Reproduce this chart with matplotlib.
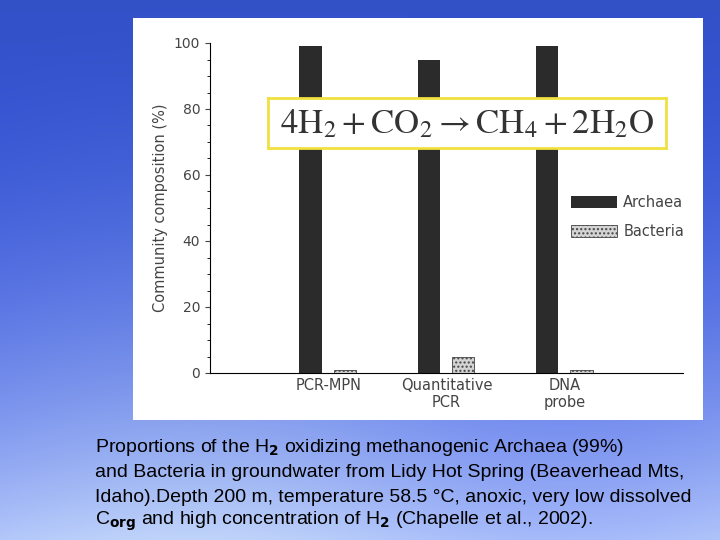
import numpy as np
import matplotlib
matplotlib.use("Agg")
import matplotlib.pyplot as plt
from matplotlib.patches import Rectangle

categories = ["PCR-MPN", "Quantitative\nPCR", "DNA\nprobe"]
archaea = [99, 95, 99]
bacteria = [1, 5, 1]
yticks = [0, 20, 40, 60, 80, 100]

W, H = 720, 540
fig = plt.figure(figsize=(7.2, 5.4), dpi=100)

bg = fig.add_axes([0, 0, 1, 1])
yy = np.linspace(0, 1, 300)[:, None]
xx = np.linspace(0, 1, 300)[None, :]
r = 0.20 + 0.50 * yy ** 2 + 0.05 * np.sin(xx * 6) * yy
g = 0.32 + 0.46 * yy ** 2 + 0.05 * np.sin(xx * 6) * yy
b = 0.78 + 0.20 * yy
img = np.dstack([np.clip(r, 0, 1) * np.ones_like(xx), np.clip(g, 0, 1) * np.ones_like(xx), np.clip(b, 0, 1) * np.ones_like(xx)])
bg.imshow(img, extent=[0, 1, 0, 1], aspect="auto", origin="upper")
bg.set_xlim(0, 1); bg.set_ylim(0, 1); bg.axis("off")

def fx(px): return px / W
def fy(py): return 1 - py / H

bg.add_patch(Rectangle((fx(133), fy(420)), fx(703) - fx(133), fy(18) - fy(420), facecolor="white", edgecolor="none"))

ax = fig.add_axes([fx(210), fy(373), fx(683) - fx(210), fy(43) - fy(373)])
ax.patch.set_alpha(0)
x = np.arange(1, len(categories) + 1)
ax.bar(x - 0.15, archaea, width=0.19, color="#2b2b2b", label="Archaea")
ax.bar(x + 0.14, bacteria, width=0.19, color="#d4d4d4", edgecolor="#444444", hatch="....", linewidth=0.6, label="Bacteria")
ax.set_xlim(0, 4)
ax.set_ylim(0, 100)
ax.set_yticks(yticks)
ax.set_yticks(np.arange(0, 101, 5), minor=True)
ax.set_xticks(x)
ax.set_xticklabels(categories, color="#444444", fontsize=10.5)
ax.tick_params(axis="y", colors="#444444", labelsize=10, direction="out")
ax.tick_params(axis="x", length=0)
for s in ["top", "right"]:
    ax.spines[s].set_visible(False)
ax.set_ylabel("Community composition (%)", color="#444444", fontsize=10.5)
ax.legend(loc="upper left", bbox_to_anchor=(0.735, 0.58), frameon=False, fontsize=10.5,
          labelcolor="#444444", handlelength=3.2, handleheight=0.9, labelspacing=1.0,
          handletextpad=0.4)

eq = fig.add_axes([fx(268), fy(148), fx(666) - fx(268), fy(98) - fy(148)])
eq.set_xticks([]); eq.set_yticks([])
eq.set_facecolor("white")
for s in eq.spines.values():
    s.set_color("#f0e040"); s.set_linewidth(2)
eq.text(0.5, 0.5, r"$4\mathrm{H}_2 + \mathrm{CO}_2 \rightarrow \mathrm{CH}_4 + 2\mathrm{H}_2\mathrm{O}$",
        fontsize=25, ha="center", va="center", color="#333333", transform=eq.transAxes,
        math_fontfamily="stix")

lines = [
    r"Proportions of the H$_\mathbf{2}$ oxidizing methanogenic Archaea (99%)",
    "and Bacteria in groundwater from Lidy Hot Spring (Beaverhead Mts,",
    "Idaho).Depth 200 m, temperature 58.5 °C, anoxic, very low dissolved",
    r"C$_\mathbf{org}$ and high concentration of H$_\mathbf{2}$ (Chapelle et al., 2002).",
]
for i, t in enumerate(lines):
    fig.text(fx(95), fy(448 + 24.5 * i), t, fontsize=14, color="black", va="center", family="Liberation Sans")

fig.savefig("out.png", dpi=100)
